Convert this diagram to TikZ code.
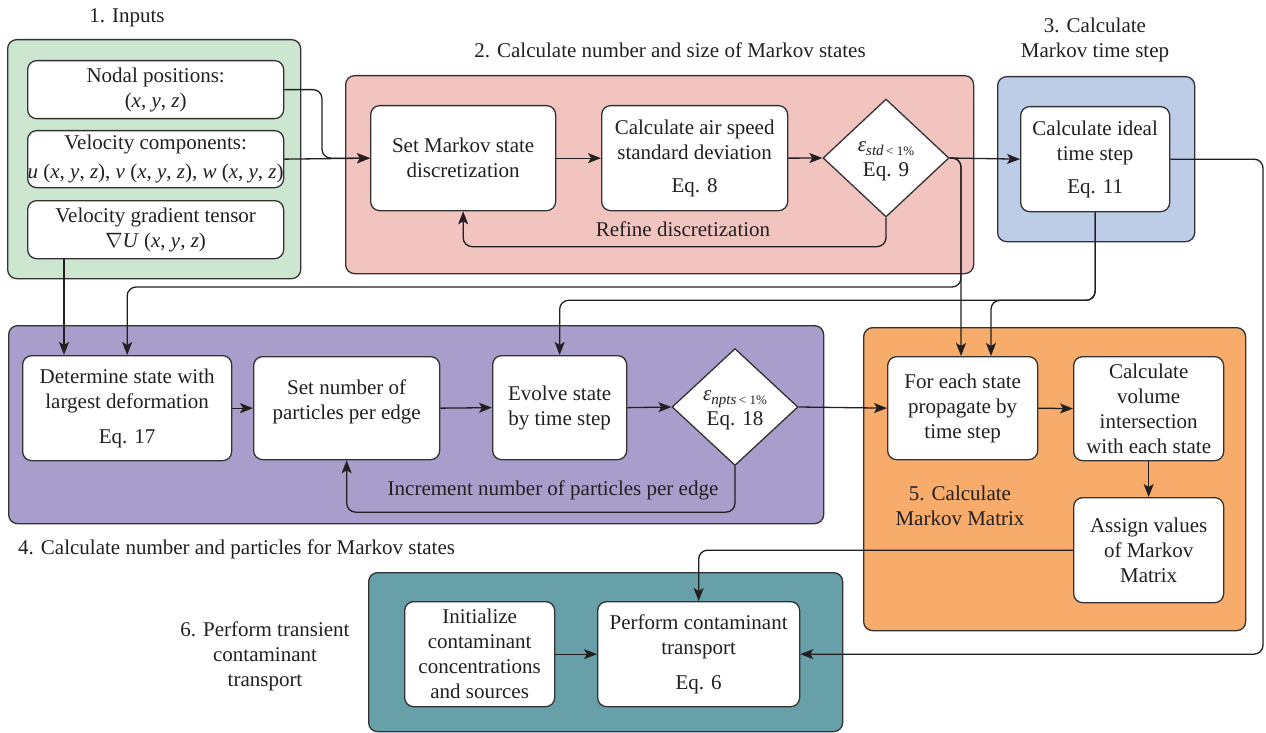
\documentclass[tikz,border=0pt]{standalone}
\usepackage{fontspec}
\setmainfont{Liberation Serif}
\usetikzlibrary{arrows.meta,shapes.geometric}
\definecolor{cgreen}{RGB}{205,230,208}
\definecolor{cpink}{RGB}{242,196,192}
\definecolor{cblue}{RGB}{189,205,232}
\definecolor{cpurple}{RGB}{168,157,203}
\definecolor{corange}{RGB}{248,172,107}
\definecolor{cteal}{RGB}{103,160,168}
\definecolor{ink}{RGB}{35,31,32}
\definecolor{edge}{RGB}{50,50,50}
\newcommand{\eps}[1]{{\itshape ε}\raisebox{-4pt}{\fontsize{15}{15}\selectfont\itshape #1\,{\upshape\fontsize{13}{13}\selectfont< 1\%}}}
\begin{document}
\begin{tikzpicture}[x=1pt,y=-1pt,
  every node/.style={text=ink},
  txt/.style={font=\fontsize{21}{25}\selectfont, align=center, inner sep=0pt},
  group/.style={draw=edge, line width=1.3pt, rounded corners=9pt, inner sep=0pt, anchor=north west},
  box/.style={txt, draw=edge, fill=white, line width=1.3pt, rounded corners=9pt, anchor=north west},
  dia/.style={draw=edge, fill=white, line width=1.3pt, diamond, inner sep=0pt},
  conn/.style={draw=ink, line width=1.3pt, rounded corners=9pt},
  arr/.style={conn, -{Stealth[length=13pt,width=10pt,inset=3pt]}},
]
\useasboundingbox (0,0) rectangle (1266,733);

% group backgrounds
\node[group, fill=cgreen, minimum width=293pt, minimum height=239pt] (gin) at (7,39) {};
\node[group, fill=cpink, minimum width=628pt, minimum height=198pt] (gpink) at (345,75) {};
\node[group, fill=cblue, minimum width=197pt, minimum height=165pt] (gblue) at (997,76) {};
\node[group, fill=cpurple, minimum width=815pt, minimum height=198pt] (gpurple) at (8,325) {};
\node[group, fill=corange, minimum width=382pt, minimum height=303pt] (gorange) at (863,327) {};
\node[group, fill=cteal, minimum width=474pt, minimum height=159pt] (gteal) at (368,572) {};

% titles
\node[txt] (t1) at (127,18) {1. Inputs};
\node[txt] (t2) at (670,50) {2. Calculate number and size of Markov states};
\node[txt] (t3) at (1095,40) {3. Calculate\\Markov time step};
\node[txt, anchor=west] (t4) at (18,549) {4. Calculate number and particles for Markov states};
\node[txt] (t5) at (960,506) {5. Calculate\\Markov Matrix};
\node[txt] (t6) at (265,656) {6. Perform transient\\contaminant\\transport};
\node[txt] (lref) at (683,229) {Refine discretization};
\node[txt] (linc) at (553,490) {Increment number of particles per edge};

% inputs
\node[box, minimum width=256pt, minimum height=58pt] (nodal) at (27,60) {Nodal positions:\\(\textit{x}, \textit{y}, \textit{z})};
\node[box, minimum width=256pt, minimum height=57pt] (velo) at (27,130) {Velocity components:\\[4pt]\textit{u} (\textit{x}, \textit{y}, \textit{z}), \textit{v} (\textit{x}, \textit{y}, \textit{z}), \textit{w} (\textit{x}, \textit{y}, \textit{z})};
\node[box, minimum width=256pt, minimum height=58pt] (grad) at (27,200) {Velocity gradient tensor\\$\nabla$\textit{U} (\textit{x}, \textit{y}, \textit{z})};

% stage 2
\node[box, minimum width=185pt, minimum height=105pt] (setm) at (370,105) {Set Markov state\\discretization};
\node[box, minimum width=186pt, minimum height=105pt] (calcair) at (601,105) {Calculate air speed\\standard deviation\\[8pt]Eq. 8};
\node[dia, minimum width=126pt, minimum height=118pt] (d9) at (886,158) {};
\node[txt] (d9t) at (886,161) {\eps{std}\\Eq. 9};

% stage 3
\node[box, minimum width=149pt, minimum height=105pt] (ideal) at (1020,106) {Calculate ideal\\time step\\[8pt]Eq. 11};

% stage 4
\node[box, minimum width=209pt, minimum height=105pt] (det) at (22,355) {Determine state with\\largest deformation\\[10pt]Eq. 17};
\node[box, minimum width=186pt, minimum height=103pt] (setn) at (253,356) {Set number of\\particles per edge\\[-8pt]\mbox{}};
\node[box, minimum width=134pt, minimum height=104pt] (evolve) at (492,355) {Evolve state\\by time step};
\node[dia, minimum width=126pt, minimum height=117pt] (d18) at (735,407) {};
\node[txt] (d18t) at (735,410) {\eps{npts}\\Eq. 18};

% stage 5
\node[box, minimum width=150pt, minimum height=103pt] (foreach) at (887,356) {For each state\\propagate by\\time step};
\node[box, minimum width=150pt, minimum height=104pt] (vol) at (1073,356) {Calculate\\volume\\intersection\\with each state};
\node[box, minimum width=150pt, minimum height=105pt] (assign) at (1073,497) {Assign values\\of Markov\\Matrix};

% stage 6
\node[box, minimum width=150pt, minimum height=105pt] (init) at (404,601) {Initialize\\contaminant\\concentrations\\and sources};
\node[box, minimum width=202pt, minimum height=105pt] (perform) at (597,601) {Perform contaminant\\transport\\[10pt]Eq. 6};

% helper coordinates
\coordinate (xg) at (64,0);
\coordinate (xa) at (322,0);
\coordinate (xb) at (961,0);
\coordinate (xc) at (961,287);
\coordinate (xd) at (991,0);
\coordinate (xe) at (1263,400);

% connectors
\draw[arr] (nodal.east) -| (xa |- setm.west) -- (setm.west);
\draw[arr] (velo.east) -- (setm.west);
\draw[arr] (grad.south -| xg) -- (det.north -| xg);
\draw[arr] (setm.east) -- (calcair.west);
\draw[arr] (calcair.east) -- (d9.west);
\draw[arr] (d9.south) -- ++(0,29) -| (setm.south);
\draw[arr] (d9.east) -- (ideal.west);
\draw[arr] (d9.east) -| (foreach.north -| xb);
\draw[arr] (d9.east) -| (xc) -| (det.north);
\draw[arr] (ideal.south) -- ++(0,88) -| (evolve.north);
\draw[arr] (ideal.south) -- ++(0,88) -| (foreach.north -| xd);
\draw[arr] (ideal.east) -| (xe) |- (perform.east);
\draw[arr] (det.east) -- (setn.west);
\draw[arr] (setn.east) -- (evolve.west);
\draw[arr] (evolve.east) -- (d18.west);
\draw[arr] (d18.east) -- (foreach.west);
\draw[arr] (d18.south) -- ++(0,46) -| (setn.south);
\draw[arr] (foreach.east) -- (vol.west);
\draw[arr] (vol.south) -- (assign.north);
\draw[arr] (assign.west) -| (perform.north);
\draw[arr] (init.east) -- (perform.west);
\end{tikzpicture}
\end{document}
